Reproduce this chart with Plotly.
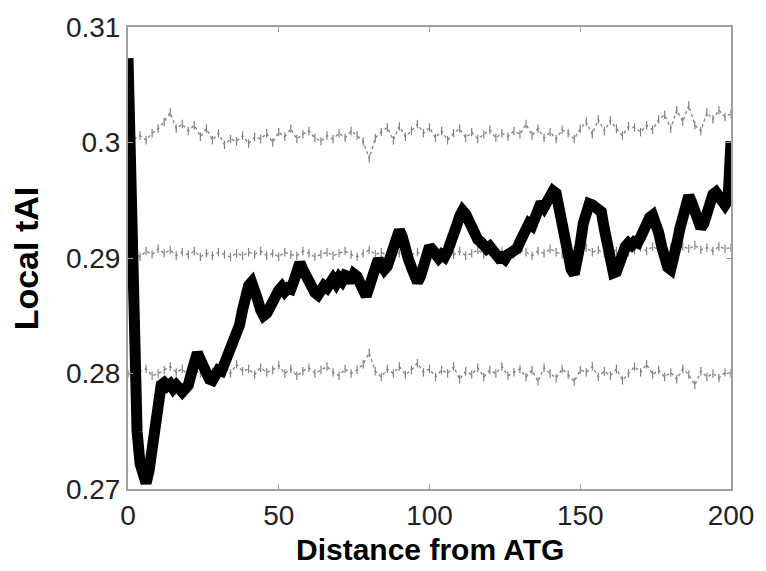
import plotly.graph_objects as go

# ---- data ----
black_x = list(range(0, 201))
black_y = [
    0.3073, 0.2950, 0.2790, 0.2750, 0.2722, 0.2708, 0.2705, 0.2716, 0.2735, 0.2758,
    0.2778, 0.2790, 0.2792, 0.2789, 0.2791, 0.2787, 0.2790, 0.2786, 0.2784, 0.2787,
    0.2790, 0.2800, 0.2812, 0.2818, 0.2812, 0.2806, 0.2800, 0.2795, 0.2794, 0.2798,
    0.2803, 0.2802, 0.2808, 0.2815, 0.2822, 0.2828, 0.2832, 0.2842, 0.2855, 0.2868,
    0.2876, 0.2879, 0.2874, 0.2864, 0.2855, 0.2850, 0.2852, 0.2858, 0.2862, 0.2866,
    0.2872, 0.2875, 0.2871, 0.2874, 0.2873, 0.2880, 0.2890, 0.2896, 0.2890, 0.2884,
    0.2880, 0.2876, 0.2870, 0.2868, 0.2872, 0.2876, 0.2874, 0.2880, 0.2882, 0.2878,
    0.2883, 0.2880, 0.2885, 0.2884, 0.2879, 0.2886, 0.2884, 0.2878, 0.2870, 0.2867,
    0.2875, 0.2886, 0.2895, 0.2899, 0.2894, 0.2890, 0.2893, 0.2900, 0.2910, 0.2920,
    0.2924, 0.2918, 0.2905, 0.2899, 0.2892, 0.2884, 0.2879, 0.2884, 0.2895, 0.2904,
    0.2910, 0.2907, 0.2904, 0.2900, 0.2903, 0.2901, 0.2906, 0.2912, 0.2919, 0.2928,
    0.2936, 0.2941, 0.2938, 0.2932, 0.2927, 0.2922, 0.2916, 0.2914, 0.2912, 0.2908,
    0.2910, 0.2906, 0.2902, 0.2900, 0.2901, 0.2899, 0.2903, 0.2905, 0.2904, 0.2908,
    0.2914, 0.2920, 0.2926, 0.2930, 0.2928, 0.2934, 0.2942, 0.2948, 0.2944, 0.2950,
    0.2955, 0.2958, 0.2956, 0.2940, 0.2925, 0.2912, 0.2900, 0.2890, 0.2886, 0.2895,
    0.2912, 0.2930, 0.2942, 0.2947, 0.2946, 0.2944, 0.2945, 0.2940, 0.2925, 0.2908,
    0.2895, 0.2887, 0.2888, 0.2897, 0.2905, 0.2910, 0.2913, 0.2911, 0.2914, 0.2913,
    0.2918, 0.2925, 0.2930, 0.2935, 0.2937, 0.2932, 0.2922, 0.2910, 0.2900, 0.2892,
    0.2890, 0.2898, 0.2912, 0.2925, 0.2938, 0.2950, 0.2954, 0.2948, 0.2938, 0.2930,
    0.2926, 0.2930, 0.2940, 0.2950, 0.2955, 0.2957, 0.2953, 0.2948, 0.2946, 0.2950,
    0.3001,
]

ctrl_x = list(range(0, 201, 2))
ctrl_top = [
    0.3004, 0.3003, 0.3006, 0.3002, 0.3008, 0.3012, 0.3018, 0.3026, 0.3012, 0.3016,
    0.3010, 0.3015, 0.3005, 0.3012, 0.3002, 0.3008, 0.2998, 0.3003, 0.3001, 0.3006,
    0.2999, 0.3005, 0.3003, 0.3008, 0.3000, 0.3009, 0.3005, 0.3012, 0.3003, 0.3007,
    0.3010, 0.3004, 0.3001, 0.3006, 0.3003, 0.3008, 0.3004, 0.3010, 0.3006, 0.3001,
    0.2986, 0.3004, 0.3009, 0.3013, 0.3002, 0.3014, 0.3005, 0.3010, 0.3016, 0.3008,
    0.3013, 0.3004, 0.3010, 0.3002, 0.3008, 0.3012, 0.3004, 0.3009, 0.3003, 0.3007,
    0.3011, 0.3004, 0.3008, 0.3005, 0.3010, 0.3007, 0.3016, 0.3006, 0.3012, 0.3004,
    0.3009, 0.3003, 0.3011, 0.3008, 0.3003, 0.3012, 0.3018, 0.3007, 0.3020, 0.3010,
    0.3019, 0.3012, 0.3006, 0.3014, 0.3013, 0.3009, 0.3015, 0.3011, 0.3020, 0.3024,
    0.3012, 0.3028, 0.3018, 0.3032, 0.3015, 0.3010, 0.3026, 0.3020, 0.3028, 0.3022,
    0.3025,
]
ctrl_mid = [
    0.2902, 0.2905, 0.2901, 0.2906, 0.2903, 0.2908, 0.2904, 0.2907, 0.2902, 0.2905,
    0.2903, 0.2906, 0.2901, 0.2904, 0.2902, 0.2905, 0.2903, 0.2901, 0.2904, 0.2902,
    0.2905, 0.2903, 0.2906, 0.2902, 0.2904, 0.2901, 0.2905, 0.2903, 0.2902, 0.2906,
    0.2904, 0.2901, 0.2903, 0.2905, 0.2902, 0.2904, 0.2906, 0.2903, 0.2901, 0.2904,
    0.2907, 0.2903, 0.2905, 0.2902, 0.2906, 0.2904, 0.2908, 0.2903, 0.2905, 0.2902,
    0.2906, 0.2904, 0.2901, 0.2905, 0.2903, 0.2906, 0.2902, 0.2904, 0.2907, 0.2903,
    0.2905, 0.2902, 0.2906, 0.2904, 0.2903, 0.2907, 0.2905, 0.2902, 0.2906, 0.2904,
    0.2908, 0.2905, 0.2903, 0.2907, 0.2904, 0.2906, 0.2909, 0.2905, 0.2907, 0.2904,
    0.2908, 0.2906, 0.2910, 0.2905, 0.2907, 0.2909, 0.2906, 0.2910, 0.2907, 0.2905,
    0.2909, 0.2906, 0.2910, 0.2908, 0.2911, 0.2907, 0.2909, 0.2906, 0.2910, 0.2908,
    0.2909,
]
ctrl_bot = [
    0.2800, 0.2799, 0.2802, 0.2804, 0.2798, 0.2800, 0.2803, 0.2806, 0.2801, 0.2804,
    0.2798, 0.2803, 0.2800, 0.2806, 0.2801, 0.2799, 0.2803, 0.2800, 0.2808, 0.2802,
    0.2804, 0.2799, 0.2805, 0.2801, 0.2803, 0.2807, 0.2800, 0.2804, 0.2798, 0.2802,
    0.2805, 0.2800, 0.2803, 0.2806, 0.2801, 0.2798, 0.2804, 0.2800, 0.2803, 0.2808,
    0.2818, 0.2802, 0.2797, 0.2804, 0.2800, 0.2806, 0.2799, 0.2803, 0.2809, 0.2801,
    0.2804, 0.2797, 0.2803, 0.2800, 0.2806, 0.2795, 0.2802, 0.2799, 0.2805, 0.2797,
    0.2803, 0.2800, 0.2806, 0.2798, 0.2801, 0.2804, 0.2797, 0.2803, 0.2793, 0.2805,
    0.2800, 0.2796, 0.2804, 0.2799, 0.2793, 0.2803, 0.2801, 0.2806, 0.2797, 0.2802,
    0.2798, 0.2804, 0.2794, 0.2800, 0.2806, 0.2801, 0.2808, 0.2799, 0.2803, 0.2797,
    0.2801, 0.2795, 0.2804, 0.2799, 0.2790, 0.2802, 0.2797, 0.2800, 0.2796, 0.2801,
    0.2800,
]

x_ticks = [0, 50, 100, 150, 200]
y_ticks = [0.27, 0.28, 0.29, 0.30, 0.31]
y_tick_text = ["0.27", "0.28", "0.29", "0.3", "0.31"]

FONT = "Liberation Sans, Arial, Helvetica, sans-serif"

fig = go.Figure()
for series in (ctrl_top, ctrl_mid, ctrl_bot):
    fig.add_trace(go.Scatter(
        x=ctrl_x, y=series, mode="lines+markers",
        line=dict(color="#808080", width=1.3, dash="dot"),
        marker=dict(symbol="line-ns-open", size=6, line=dict(color="#8a8a8a", width=1.2)),
        showlegend=False, hoverinfo="skip",
    ))
fig.add_trace(go.Scatter(
    x=black_x, y=black_y, mode="lines",
    line=dict(color="black", width=11),
    showlegend=False,
))

axis_common = dict(
    showgrid=False, zeroline=False, showline=True, mirror="ticks",
    linecolor="#a0a0a0", linewidth=2, ticks="inside", ticklen=5,
    tickcolor="#a0a0a0", tickwidth=1,
    tickfont=dict(family=FONT, size=28, color="#222"),
)
fig.update_xaxes(range=[0, 200], tickvals=x_ticks, **axis_common)
fig.update_yaxes(range=[0.27, 0.31], tickvals=y_ticks, ticktext=y_tick_text, **axis_common)

fig.update_layout(
    width=766, height=571,
    margin=dict(l=128, r=33, t=22, b=82),
    paper_bgcolor="white", plot_bgcolor="white",
    annotations=[
        dict(text="<b>Distance from ATG</b>", xref="paper", yref="paper",
             x=0.5, y=-80 / 467, xanchor="center", yanchor="bottom", showarrow=False,
             font=dict(family=FONT, size=30, color="black")),
        dict(text="<b>Local tAI</b>", xref="paper", yref="paper",
             x=-102 / 605, y=0.5, xanchor="center", yanchor="middle", showarrow=False,
             textangle=-90, font=dict(family=FONT, size=34, color="black")),
    ],
)

fig.write_html("out.html")
